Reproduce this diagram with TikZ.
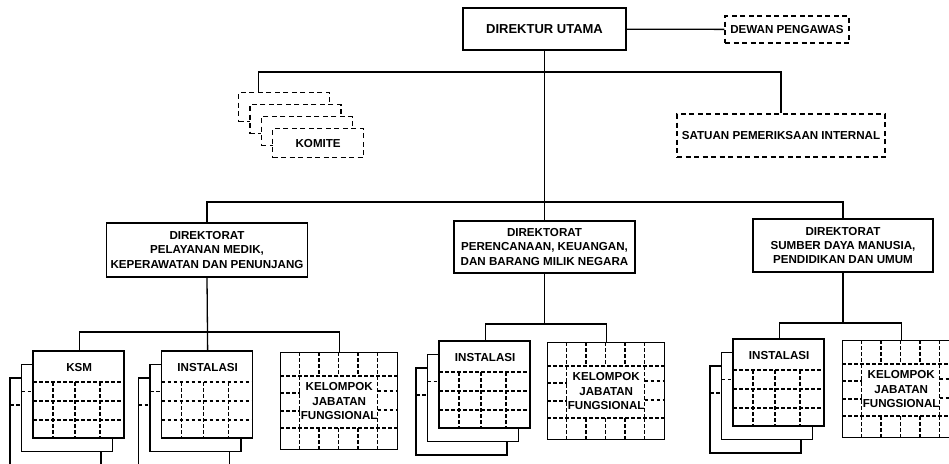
\documentclass[tikz,border=0pt]{standalone}
\usepackage{fontspec}
\setmainfont{Liberation Sans}

\begin{document}
\begin{tikzpicture}[x=1pt,y=-1pt,font=\bfseries\fontsize{11.6}{14.3}\selectfont,
line width=1.3pt,
solidbox/.style={draw,fill=white,align=center,inner sep=2pt},
dashbox/.style={draw,fill=white,dash pattern=on 5pt off 3.5pt,inner sep=2pt},
gridline/.style={line width=1.1pt,dash pattern=on 3.5pt off 2.5pt}]
\useasboundingbox (0,0) rectangle (949,463);

% top level
\node[solidbox,minimum width=163pt,minimum height=42pt,font=\bfseries\fontsize{13}{15}\selectfont] (du) at (544.5,29) {DIREKTUR UTAMA};
\node[dashbox,minimum width=124pt,minimum height=27pt] (dewan) at (787,29.5) {DEWAN PENGAWAS};
\node[dashbox,minimum width=208pt,minimum height=43pt] (spi) at (781,135.5) {SATUAN PEMERIKSAAN INTERNAL};
\foreach \k in {0,1,2}
  \node[dashbox,minimum width=91pt,minimum height=29pt,anchor=north west] (kom\k) at (238+11.33*\k,92+12*\k) {};
\node[dashbox,minimum width=91pt,minimum height=29pt,anchor=north west] (komite) at (272,128) {KOMITE};

% direktorat
\node[solidbox,minimum width=201pt,minimum height=54pt] (dir1) at (207,250) {DIREKTORAT\\PELAYANAN MEDIK,\\KEPERAWATAN DAN PENUNJANG};
\node[solidbox,minimum width=181pt,minimum height=52pt] (dir2) at (544.5,247) {DIREKTORAT\\PERENCANAAN, KEUANGAN,\\DAN BARANG MILIK NEGARA};
\node[solidbox,minimum width=180pt,minimum height=53pt] (dir3) at (843,245.5) {DIREKTORAT\\SUMBER DAYA MANUSIA,\\PENDIDIKAN DAN UMUM};

% KSM / instalasi stacks
\foreach \nm/\xa/\ya/\txt in {ksm/33/351/KSM, ins1/161.5/351/INSTALASI, ins2/439/341/INSTALASI, ins3/733/339/INSTALASI}{
  \foreach \k in {2,1}{
    \begin{scope}[shift={(\xa-11.5*\k,\ya+13.5*\k)}]
      \draw[fill=white] (0,0) rectangle (91,87);
      \draw[gridline] (0,27) -- (91,27);
    \end{scope}
  }
  \begin{scope}[shift={(\xa,\ya)}]
    \draw[fill=white] (0,0) rectangle (91,87);
    \draw[gridline] (0,31) -- (91,31) (0,50) -- (91,50) (0,69) -- (91,69);
    \foreach \c in {20,42,67}
      \draw[gridline] (\c,31) -- (\c,87);
  \end{scope}
  \node[minimum width=91pt,minimum height=87pt,anchor=north west,
        label={[anchor=north,yshift=-8pt]north:\txt}] (\nm) at (\xa,\ya) {};
}

% kelompok jabatan fungsional
\foreach \nm/\xa/\ya in {kjf1/280/352, kjf2/547/342, kjf3/842/340}{
  \node[solidbox,minimum width=117pt,minimum height=97pt,anchor=north west] (\nm) at (\xa,\ya) {KELOMPOK\\JABATAN\\FUNGSIONAL};
  \draw[gridline] (\xa,\ya+24) -- ++(117,0) (\xa,\ya+76) -- ++(117,0)
    (\xa,\ya+41) -- ++(19.5,0) (\xa,\ya+59) -- ++(19.5,0)
    (\xa+97.5,\ya+39) -- ++(19.5,0) (\xa+97.5,\ya+58) -- ++(19.5,0)
    (\xa+19.5,\ya+24) -- ++(0,52) (\xa+97.5,\ya+24) -- ++(0,52);
  \foreach \c in {19.5,39,58.5,78,97.5}
    \draw[gridline] (\xa+\c,\ya) -- ++(0,24) (\xa+\c,\ya+76) -- ++(0,21);
}

% connectors
\coordinate (topbus) at (544.5,72);
\coordinate (dirbus) at (544.5,202);
\coordinate (bus1) at (207,332);
\coordinate (bus2) at (544.5,324);
\coordinate (bus3) at (843,323);
\draw (du) -- (dewan);
\draw (du.south) -- (dir2.north);
\draw ([xshift=-25.5pt]kom0.north) |- (topbus) -| (spi.north);
\draw (dir1.north) |- (dirbus) -| (dir3.north);
\draw (ksm.north) |- (bus1) -| (kjf1.north);
\draw (dir1.south) -- (ins1.north);
\draw (ins2.north) |- (bus2) -| (kjf2.north);
\draw (dir2.south) -- (bus2);
\draw (ins3.north) |- (bus3) -| (kjf3.north);
\draw (dir3.south) -- (bus3);
\end{tikzpicture}
\end{document}
